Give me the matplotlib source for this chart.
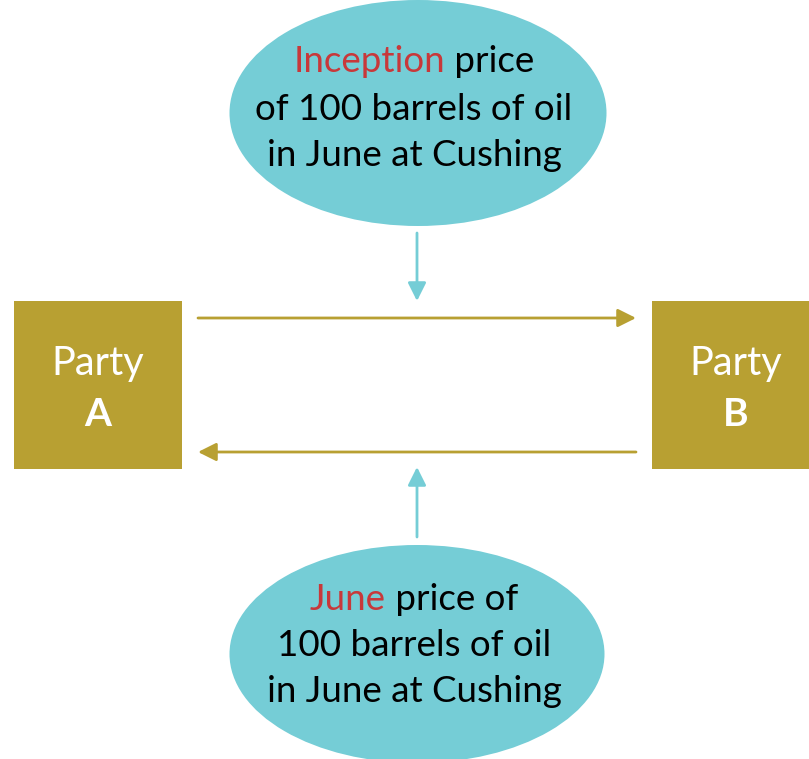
import matplotlib.pyplot as plt
from matplotlib.patches import Ellipse, Rectangle

teal = "#75cdd6"
gold = "#b8a032"
red = "#c8383a"

# bubble text: (highlighted word, rest of line) per line
top_lines = [("Inception", " price"), ("", "of 100 barrels of oil"), ("", "in June at Cushing")]
bottom_lines = [("June", " price of"), ("", "100 barrels of oil"), ("", "in June at Cushing")]
parties = ["A", "B"]

fig = plt.figure(figsize=(8.09, 7.59), dpi=100)
ax = fig.add_axes([0, 0, 1, 1])
ax.set_xlim(0, 809)
ax.set_ylim(759, 0)
ax.axis("off")

font = dict(family="Lato", fontsize=26.5)

ax.add_patch(Ellipse((418, 113), 377, 226, color=teal, lw=0))
ax.add_patch(Ellipse((417, 654), 375, 218, color=teal, lw=0))

renderer = fig.canvas.get_renderer()


def bubble_text(lines, cx, y0, dy):
    for i, (hi, rest) in enumerate(lines):
        y = y0 + i * dy
        t1 = ax.text(0, y, hi, color=red, va="center", ha="left", **font)
        t2 = ax.text(0, y, rest, color="black", va="center", ha="left", **font)
        w1 = t1.get_window_extent(renderer).width if hi else 0
        w2 = t2.get_window_extent(renderer).width
        x0 = cx - (w1 + w2) / 2
        t1.set_x(x0)
        t2.set_x(x0 + w1)


bubble_text(top_lines, 414, 62, 47)
bubble_text(bottom_lines, 414, 600, 46)

# party boxes
for x, p in zip([14, 652], parties):
    ax.add_patch(Rectangle((x, 301), 168, 168, color=gold, lw=0))
    cx = x + 84
    ax.text(cx, 364, "Party", color="white", ha="center", va="center",
            family="Lato", fontsize=28.5)
    ax.text(cx, 415, p, color="white", ha="center", va="center",
            family="Lato", fontsize=28, weight="bold")

arrow = dict(arrowstyle="-|>,head_length=1.1,head_width=0.55", lw=2, shrinkA=0, shrinkB=0)
ax.annotate("", xy=(636, 318), xytext=(198, 318), arrowprops=dict(color=gold, **arrow))
ax.annotate("", xy=(198, 452), xytext=(636, 452), arrowprops=dict(color=gold, **arrow))
ax.annotate("", xy=(417, 301), xytext=(417, 233), arrowprops=dict(color=teal, **arrow))
ax.annotate("", xy=(417, 467), xytext=(417, 537), arrowprops=dict(color=teal, **arrow))

fig.savefig("out.png", dpi=100)
